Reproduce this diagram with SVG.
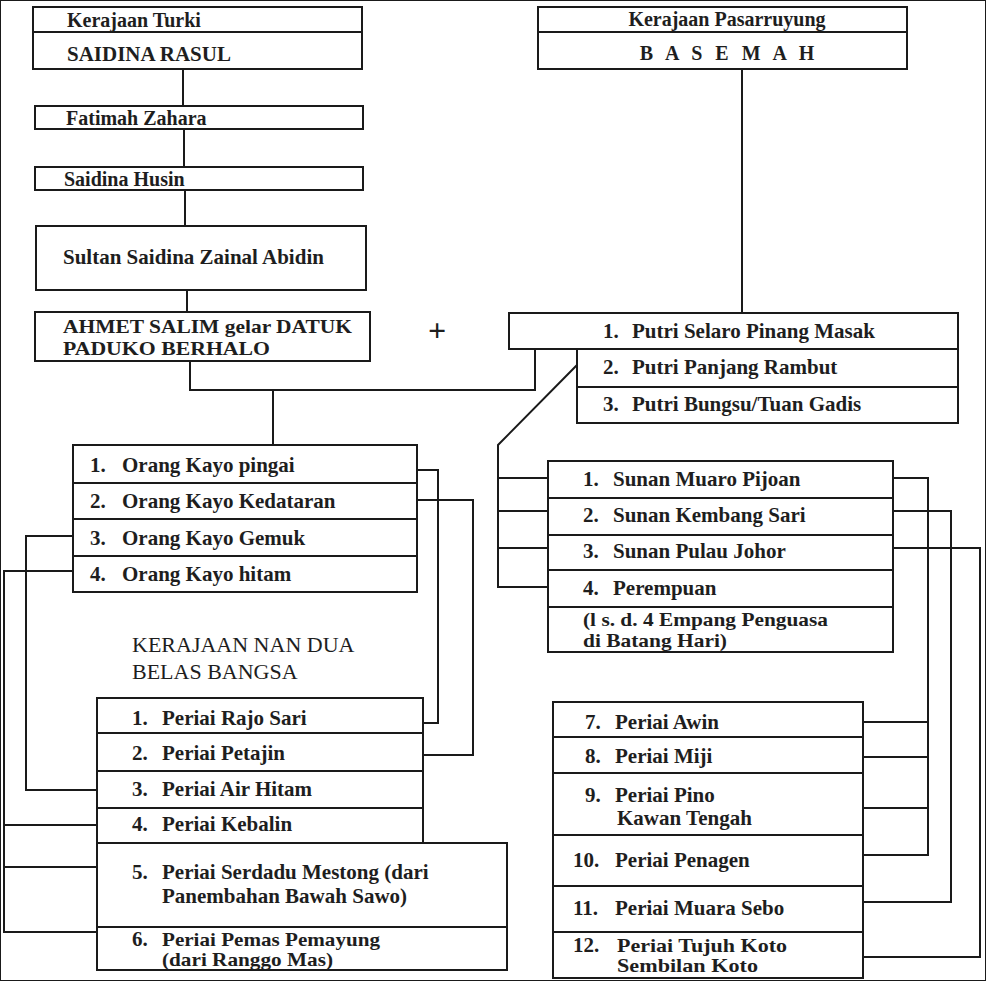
<svg xmlns="http://www.w3.org/2000/svg" width="986" height="981" viewBox="0 0 986 981">
<style>
rect,.box{fill:none;stroke:#1a1a1a;stroke-width:2}
.div{stroke:#1a1a1a;stroke-width:2}
.c{fill:none;stroke:#1a1a1a;stroke-width:2}
text{font-family:'Liberation Serif','Times New Roman','DejaVu Serif',serif;font-size:21px;font-weight:bold;fill:#1e1e1e}
.reg{font-weight:normal;font-size:22px}
.sm{font-size:20px}
.two{font-size:19px}
</style>
<rect x="0" y="0" width="986" height="981" fill="#fff" stroke="none"/>

<g id="connectors">
<path class="c" d="M183,69 V106"/>
<path class="c" d="M184,129 V167"/>
<path class="c" d="M185,190 V226"/>
<path class="c" d="M187,290 V312"/>
<path class="c" d="M742,69 V313"/>
<path class="c" d="M190,361 V390 H535 V349"/>
<path class="c" d="M273,390 V445"/>
<path class="c" d="M577,365 L498,445 V587 H548"/>
<path class="c" d="M498,478 H548 M498,511 H548 M498,548 H548"/>
<path class="c" d="M417,470 H438 V723 H423"/>
<path class="c" d="M417,500 H473 V755 H423"/>
<path class="c" d="M73,536 H26 V790 H97"/>
<path class="c" d="M73,571 H4 V932 H97 M4,825 H97 M4,867 H97"/>
<path class="c" d="M893,478 H928 V855 H863 M928,722 H863 M928,757 H863 M928,808 H863"/>
<path class="c" d="M893,511 H951 V902 H863"/>
<path class="c" d="M893,548 H980 V957 H863"/>
</g>

<g id="kerajaan-turki">
<rect x="33" y="7" width="329" height="62"/>
<line class="div" x1="33" y1="32" x2="362" y2="32"/>
<text class="sm" x="67" y="27">Kerajaan Turki</text>
<text x="67" y="61">SAIDINA RASUL</text>
</g>

<g id="fatimah">
<rect x="35" y="106" width="328" height="23"/>
<text class="sm" x="66" y="125">Fatimah Zahara</text>
</g>

<g id="husin">
<rect x="35" y="167" width="328" height="23"/>
<text class="sm" x="64" y="186">Saidina Husin</text>
</g>

<g id="zainal">
<rect x="36" y="226" width="330" height="64"/>
<text x="63" y="264">Sultan Saidina Zainal Abidin</text>
</g>

<g id="ahmet">
<rect x="35" y="312" width="335" height="49"/>
<text class="two" x="63" y="333" textLength="289" lengthAdjust="spacingAndGlyphs">AHMET SALIM gelar DATUK</text>
<text class="two" x="63" y="355" textLength="207" lengthAdjust="spacingAndGlyphs">PADUKO BERHALO</text>
</g>

<g id="plus">
<text x="437" y="341" text-anchor="middle" style="font-size:32px">+</text>
</g>

<g id="basemah">
<rect x="538" y="7" width="369" height="62"/>
<line class="div" x1="538" y1="32" x2="907" y2="32"/>
<text class="sm" x="727" y="26" text-anchor="middle">Kerajaan Pasarruyung</text>
<text class="sm" x="729" y="60" text-anchor="middle" style="letter-spacing:4px">B A S E M A H</text>
</g>

<g id="putri">
<rect x="509" y="313" width="449" height="36"/>
<path class="box" d="M577,349 V423 H958 V349 M577,387 H958"/>
<text x="603" y="338">1.</text><text x="632" y="338">Putri Selaro Pinang Masak</text>
<text x="603" y="374">2.</text><text x="632" y="374">Putri Panjang Rambut</text>
<text x="603" y="411">3.</text><text x="632" y="411">Putri Bungsu/Tuan Gadis</text>
</g>

<g id="orang-kayo">
<rect x="73" y="445" width="344" height="147"/>
<path class="div" d="M73,483 H417 M73,519 H417 M73,556 H417"/>
<text x="90" y="472">1.</text><text x="122" y="472">Orang Kayo pingai</text>
<text x="90" y="508">2.</text><text x="122" y="508">Orang Kayo Kedataran</text>
<text x="90" y="545">3.</text><text x="122" y="545">Orang Kayo Gemuk</text>
<text x="90" y="581">4.</text><text x="122" y="581">Orang  Kayo hitam</text>
</g>

<g id="sunan">
<rect x="548" y="461" width="345" height="191"/>
<path class="div" d="M548,498 H893 M548,535 H893 M548,570 H893 M548,607 H893"/>
<text x="583" y="486">1.</text><text x="613" y="486">Sunan Muaro Pijoan</text>
<text x="583" y="522">2.</text><text x="613" y="522">Sunan Kembang Sari</text>
<text x="583" y="558">3.</text><text x="613" y="558">Sunan Pulau Johor</text>
<text x="583" y="595">4.</text><text x="613" y="595">Perempuan</text>
<text class="two" x="583" y="626" textLength="245" lengthAdjust="spacingAndGlyphs">(l s. d. 4 Empang Penguasa</text>
<text class="two" x="583" y="647" textLength="144" lengthAdjust="spacingAndGlyphs">di Batang Hari)</text>
</g>

<g id="nan-dua-belas-title">
<text class="reg" x="132" y="652">KERAJAAN NAN DUA</text>
<text class="reg" x="132" y="679">BELAS BANGSA</text>
</g>

<g id="periai-1-6">
<path class="box" d="M97,698 H423 V843 H507 V970 H97 Z"/>
<path class="div" d="M97,733 H423 M97,771 H423 M97,808 H423 M97,843 H423 M97,927 H507"/>
<text x="132" y="725">1.</text><text x="162" y="725">Periai Rajo Sari</text>
<text x="132" y="760">2.</text><text x="162" y="760">Periai Petajin</text>
<text x="132" y="796">3.</text><text x="162" y="796">Periai Air Hitam</text>
<text x="132" y="831">4.</text><text x="162" y="831">Periai Kebalin</text>
<text x="132" y="879">5.</text><text x="162" y="879">Periai Serdadu Mestong (dari</text>
<text x="162" y="903">Panembahan Bawah Sawo)</text>
<text x="132" y="946">6.</text><text class="two" x="162" y="946" textLength="218" lengthAdjust="spacingAndGlyphs">Periai Pemas Pemayung</text>
<text class="two" x="162" y="966" textLength="171" lengthAdjust="spacingAndGlyphs">(dari Ranggo Mas)</text>
</g>

<g id="periai-7-12">
<rect x="553" y="702" width="310" height="276"/>
<path class="div" d="M553,737 H863 M553,773 H863 M553,835 H863 M553,886 H863 M553,932 H863"/>
<text x="585" y="729">7.</text><text x="615" y="729">Periai Awin</text>
<text x="585" y="763">8.</text><text x="615" y="763">Periai Miji</text>
<text x="585" y="802">9.</text><text x="615" y="802">Periai Pino</text>
<text x="617" y="825">Kawan Tengah</text>
<text x="573" y="867">10.</text><text x="615" y="867">Periai Penagen</text>
<text x="573" y="915">11.</text><text x="615" y="915">Periai Muara Sebo</text>
<text x="573" y="952">12.</text><text class="two" x="617" y="952" textLength="170" lengthAdjust="spacingAndGlyphs">Periai Tujuh Koto</text>
<text class="two" x="617" y="972" textLength="141" lengthAdjust="spacingAndGlyphs">Sembilan Koto</text>
</g>
</svg>
